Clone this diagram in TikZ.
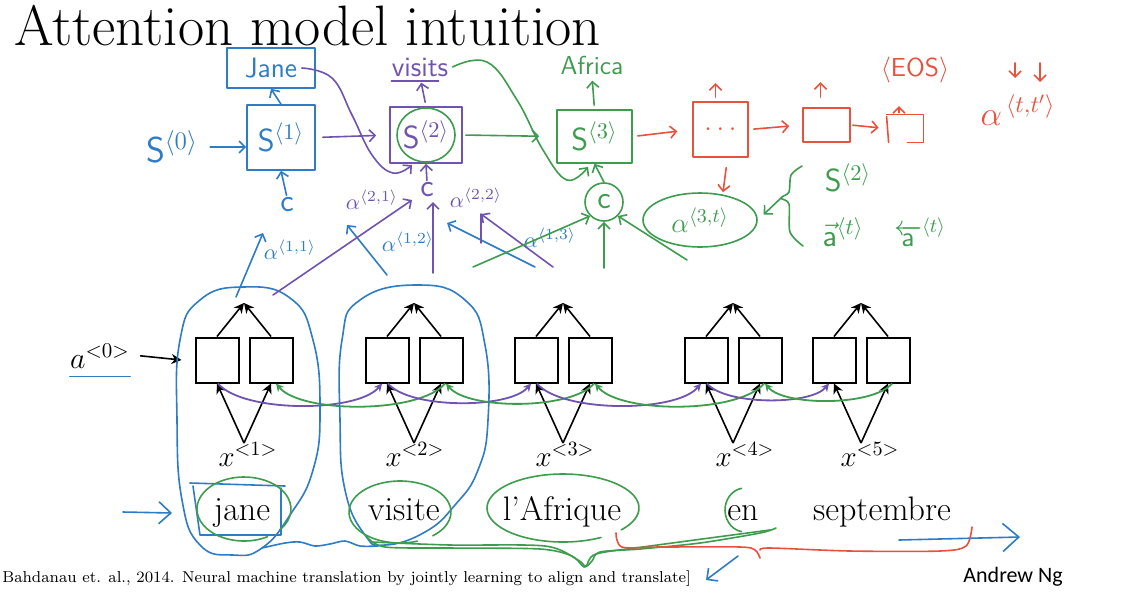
\RequirePackage{fix-cm}
\documentclass[tikz,border=0pt]{standalone}
\usepackage{fontspec}
\newfontfamily\carlito{Carlito}
\usepackage{tikz}
\usetikzlibrary{arrows.meta,shapes.geometric}
\definecolor{penblue}{RGB}{46,124,198}
\definecolor{penpurple}{RGB}{112,82,178}
\definecolor{pengreen}{RGB}{62,156,78}
\definecolor{penred}{RGB}{232,82,60}
\tikzset{
encbox/.style={draw,line width=1pt,minimum width=21.5pt,minimum height=22.5pt,inner sep=0pt},
enc/.style={line width=0.8pt,-{Stealth[length=5pt,width=5pt]}},
link/.style={line width=0.9pt,-{Stealth[length=4pt,width=4pt]}},
pen/.style={line width=0.8pt,line cap=round,line join=round},
hand/.style={pen,-{Straight Barb[length=3pt,width=6pt]}},
hbox/.style={draw,pen,inner sep=0pt},
hmath/.style={inner sep=0pt,font=\fontsize{16}{18}\selectfont},
alab/.style={inner sep=0pt,font=\fontsize{11}{13}\selectfont},
word/.style={anchor=base,inner sep=0pt,font=\fontsize{17}{20}\selectfont},
}
\begin{document}
\begin{tikzpicture}[x=0.5pt,y=-0.5pt]
\fill[white] (0,0) rectangle (1123,612);
\useasboundingbox (0,0) rectangle (1123,612);
\node[anchor=base west,inner sep=0pt,font=\fontsize{28.5}{32}\selectfont] (title) at (14,45) {Attention model intuition};
% the encoder
\foreach \i/\cx/\lx in {1/244/248,2/414/415,3/563/565,4/733/745,5/861/870}
{
  \node[encbox] (f\i) at (\cx-27,360) {};
  \node[encbox] (b\i) at (\cx+27,360) {};
  \coordinate (y\i) at (\cx,303);
  \coordinate (o\i) at (\cx,443);
  \node[anchor=base,inner sep=0pt,font=\fontsize{14.5}{17}\selectfont] (x\i) at (\lx,466) {$x^{<\i>}$};
  \draw[enc] (f\i.north) -- (y\i);
  \draw[enc] (b\i.north) -- (y\i);
  \draw[enc] (o\i) -- (f\i.south);
  \draw[enc] (o\i) -- (b\i.south);
}
% the recurrent links
\foreach \i/\j in {1/2,2/3,3/4,4/5}
{
  \draw[link,penpurple] ([xshift=0.5pt]f\i.south) to[out=-50,in=-130,looseness=0.6] ([xshift=-2.5pt]f\j.south);
  \draw[link,pengreen] ([xshift=2pt]b\j.south) to[out=-130,in=-50,looseness=0.6] ([xshift=2.5pt]b\i.south);
}
\node[anchor=base,inner sep=0pt,font=\fontsize{15}{17}\selectfont] (a0) at (100,368) {$a^{<0>}$};
\draw[enc] ([xshift=5pt]a0.east) -- ([xshift=-6.5pt]f1.west);
% the source words
\foreach \w/\wx [count=\k] in {jane/242,visite/404,l'Afrique/562,en/743,septembre/882}
  \node[word] (src\k) at (\wx,520) {\w};
\node[anchor=base west,inner sep=0pt,font=\fontsize{7.9}{9}\selectfont] (cite) at (2,582) {Bahdanau et. al., 2014. Neural machine translation by jointly learning to align and translate]};
\node[anchor=base west,inner sep=0pt,font=\carlito\fontsize{11}{13}\selectfont] (author) at (963,582) {Andrew Ng};
% blue notes
\begin{scope}[penblue]
\draw[pen] ([yshift=-4pt]a0.south west) -- ([yshift=-4pt]a0.south east);
\node[hbox,font=\sffamily\fontsize{14}{16}\selectfont,minimum width=44pt,minimum height=20pt] (jane) at (271,68) {Jane};
\node[hbox,hmath,minimum width=34pt,minimum height=32.5pt] (s1) at (281,137.5) {$\mathsf{S}^{\langle 1\rangle}$};
\node[hmath,font=\fontsize{18}{20}\selectfont] (s0) at (172,147) {$\mathsf{S}^{\langle 0\rangle}$};
\node[hmath] (c1) at (287,205) {$\mathsf{c}$};
\draw[hand] ([xshift=6pt]s0.east) -- (s1.west |- s0.east);
\draw[hand] (s1.north) -- (jane.south);
\draw[hand,shorten <=1pt] (c1.north) -- (s1.south);
\coordinate (u1) at (236,297); \coordinate (v1) at (263,233);
\coordinate (u2) at (387,275); \coordinate (v2) at (347,225);
\coordinate (u3) at (535,267); \coordinate (v3) at (447,223);
\draw[hand] (u1) -- (v1);
\draw[hand] (u2) -- (v2);
\draw[hand] (u3) -- (v3);
\node[alab] (a11) at (290,250) {$\alpha^{\langle 1,1\rangle}$};
\node[alab] (a12) at (408,242) {$\alpha^{\langle 1,2\rangle}$};
\node[alab] (a13) at (550,238) {$\alpha^{\langle 1,3\rangle}$};
% loops round the first two steps
\draw[pen] plot[smooth cycle,tension=0.8] coordinates {(243,287) (290,298) (313,340) (320,410) (313,470) (290,515) (262,548) (233,555) (200,545) (182,500) (177,420) (180,340) (200,300)};
\draw[pen] plot[smooth cycle,tension=0.8] coordinates {(417,285) (465,300) (485,345) (488,420) (478,470) (455,505) (425,532) (385,545) (365,535) (345,490) (340,420) (342,340) (360,300)};
\draw[pen] (190,483) -- (285,486);
\draw[pen] (193,486) -- (200,535) -- (281,535) -- (281,488);
\draw[pen] plot[smooth] coordinates {(262,548) (285,543) (300,542) (315,546) (330,544) (345,541) (360,546) (378,546)};
\draw[pen,-{Straight Barb[length=6pt,width=11pt]}] (123,512) -- (172,513);
\draw[pen,-{Straight Barb[length=8pt,width=14pt]}] (899,540) -- (1020,537);
\draw[pen,-{Straight Barb[length=4pt,width=8pt]}] (738,556) -- (706,580);
\end{scope}
% purple notes
\begin{scope}[penpurple]
\node[inner sep=0pt,font=\sffamily\fontsize{14}{16}\selectfont] (visits) at (420,67) {visits};
\draw[pen] ([yshift=-2pt]visits.south west) -- ([yshift=-2pt,xshift=-5pt]visits.south east);
\node[hbox,minimum width=36pt,minimum height=28pt] (s2) at (426,135) {};
\draw[pen,pengreen] (s2.center) ellipse[x radius=29,y radius=27];
\node[hmath] (s2t) at (s2) {$\mathsf{S}^{\langle 2\rangle}$};
\node[hmath] (c2) at (427,190) {$\mathsf{c}$};
\draw[hand,shorten <=2pt,shorten >=3pt] (s2.north) -- (visits.south);
\draw[hand,shorten <=3.5pt,shorten >=6.5pt] (s1.east) -- (s2.west);
\draw[hand] plot[smooth,tension=0.7] coordinates {([xshift=-7pt]jane.east) (332,78) (352,115) (372,155) (393,173) (412,165)};
\draw[hand,shorten <=1pt] (c2.north) -- (s2.south);
\coordinate (p1) at (273,295); \coordinate (q1) at (412,200);
\coordinate (p2) at (433,273); \coordinate (q2) at (433,202);
\coordinate (p3) at (553,267); \coordinate (q3) at (481,214);
\draw[hand] (p1) -- (q1);
\draw[hand] (p2) -- (q2);
\draw[hand] (p3) -- (q3);
\draw[pen] (q3) -- ++(0,29);
\node[alab] (a21) at (372,200) {$\alpha^{\langle 2,1\rangle}$};
\node[alab] (a22) at (476,198) {$\alpha^{\langle 2,2\rangle}$};
\end{scope}
% green notes
\begin{scope}[pengreen]
\node[inner sep=1pt,font=\sffamily\fontsize{13}{15}\selectfont] (africa) at (592,65) {Africa};
\node[hbox,hmath,minimum width=37.5pt,minimum height=26.5pt] (s3) at (594.5,136.5) {$\mathsf{S}^{\langle 3\rangle}$};
\node[hbox,hmath,circle,minimum size=19pt] (c3) at (604,202) {$\mathsf{c}$};
\node[hbox,ellipse,minimum width=57pt,minimum height=27pt,font=\fontsize{14}{16}\selectfont] (a3t) at (700,220) {$\alpha^{\langle 3,t\rangle}$};
\draw[hand,shorten <=2pt,shorten >=2pt] (s3.north) -- (africa.south);
\draw[hand,shorten <=1.5pt,shorten >=8.5pt] (s2.east) -- (s3.west);
\draw[hand] plot[smooth,tension=0.7] coordinates {([xshift=2pt]visits.east) (487,62) (517,100) (543,150) (567,180) (588,167)};
\draw[hand] (c3.north) -- (s3.south);
\coordinate (g1) at (473,267);
\coordinate (g2) at (604,268);
\coordinate (g3) at (687,260);
\draw[hand] (g1) -- (c3.south west);
\draw[hand] (g2) -- (c3.south);
\draw[hand] (g3) -- (c3.south east);
\coordinate (brace) at (781,198);
\draw[pen] plot[smooth] coordinates {(802,166) (791,175) (789,192) (brace) (789,204) (790,232) (803,246)};
\draw[hand,shorten >=4pt] (brace) -- (a3t.east);
\node[hmath] (s2b) at (848,178) {$\mathsf{S}^{\langle 2\rangle}$};
\node[hmath] (af) at (843,232) {$\vec{\mathsf{a}}^{\langle t\rangle}$};
\node[hmath,font=\fontsize{14}{16}\selectfont] (ab) at (920,232) {$\overleftarrow{\mathsf{a}}^{\langle t\rangle}$};
% circles round the source words
\draw[pen] (244,509) ++(60:47 and 32) arc[start angle=60,end angle=400,x radius=47,y radius=32];
\draw[pen] (400,512) ++(70:51 and 31) arc[start angle=70,end angle=410,x radius=51,y radius=31];
\draw[pen] (563,508) ++(60:76 and 34) arc[start angle=60,end angle=400,x radius=76,y radius=34];
\draw[pen] (745,510) ++(100:20 and 22) arc[start angle=100,end angle=260,x radius=20,y radius=22];
\draw[pen] plot[smooth] coordinates {(367,537) (385,547) (450,548) (540,549) (572,556) (584,567) (592,561) (600,552) (640,549) (700,543) (760,533) (776,528)};
\draw[pen] plot[smooth] coordinates {(372,542) (450,545) (545,546) (578,560) (586,566) (596,554) (650,546) (770,530)};
\end{scope}
% red notes
\begin{scope}[penred]
\node[hbox,minimum width=27.5pt,minimum height=27.5pt,font=\fontsize{14}{16}\selectfont] (dots) at (720.5,129.5) {$\ldots$};
\node[hbox,minimum width=23.5pt,minimum height=17pt] (r2) at (826.5,125) {};
\node[inner sep=0pt,minimum width=18pt,minimum height=13.5pt] (r3) at (905,128.5) {};
\draw[pen] ([yshift=-1pt]r3.north west) -- ([xshift=1pt]r3.south west);
\draw[pen] (r3.north west) -- (r3.north east) -- (r3.south east) -- ([xshift=-8pt]r3.south east);
\node[font=\fontsize{13}{15}\selectfont] (eos) at (915,70) {$\langle\mathsf{EOS}\rangle$};
\draw[hand,shorten <=2.5pt,shorten >=7.5pt] (s3.east) -- (dots.west);
\draw[hand,shorten <=2.5pt,shorten >=6.5pt] (dots.east) -- (r2.west);
\draw[hand,shorten <=1pt,shorten >=4pt] (r2.east) -- (r3.west);
\draw[hand] ([yshift=2pt,xshift=-2.5pt]dots.north) -- ([yshift=9pt,xshift=-2.5pt]dots.north);
\draw[hand] ([yshift=5pt,xshift=-3pt]r2.north) -- ([yshift=12.5pt,xshift=-3pt]r2.north);
\draw[hand,shorten <=1pt,shorten >=8pt] ([xshift=-3pt]r3.north) -- ([xshift=-3pt]r3.north |- eos.south);
\draw[hand,shorten <=5pt] ([xshift=3.5pt]dots.south) -- ([xshift=11.5pt]a3t.north);
\node[font=\fontsize{17}{19}\selectfont] (att) at (1018,110) {$\alpha^{\,\langle t,t'\rangle}$};
\coordinate (t1) at (1015,63); \coordinate (t2) at (1040,63);
\draw[hand] (t1) -- ++(0,15);
\draw[hand] (t2) -- ++(0,19);
\draw[pen] plot[smooth] coordinates {(616,533) (622,547) (660,547) (740,547) (755,550) (760,558)};
\draw[pen] plot[smooth] coordinates {(760,550) (770,548) (850,551) (940,551) (966,546) (972,527)};
\end{scope}
\end{tikzpicture}
\end{document}
